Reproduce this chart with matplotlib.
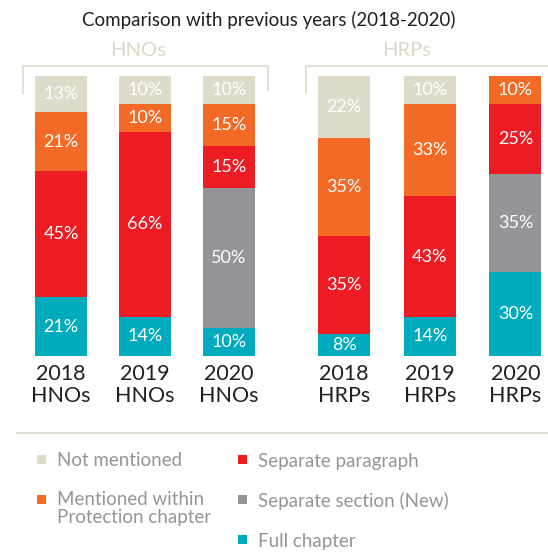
import matplotlib.pyplot as plt
from matplotlib.lines import Line2D
from matplotlib.patches import Rectangle

plt.rcParams['font.family'] = ['Lato', 'DejaVu Sans']

# categories (bottom to top stacking)
categories = ['2018\nHNOs', '2019\nHNOs', '2020\nHNOs', '2018\nHRPs', '2019\nHRPs', '2020\nHRPs']
full_chapter = [21, 14, 10, 8, 14, 30]
separate_section = [0, 0, 50, 0, 0, 35]
separate_paragraph = [45, 66, 15, 35, 43, 25]
mentioned_within = [21, 10, 15, 35, 33, 10]
not_mentioned = [13, 10, 10, 22, 10, 0]

series = [full_chapter, separate_section, separate_paragraph, mentioned_within, not_mentioned]
colors = ['#00abbd', '#939598', '#ed1c24', '#f26a25', '#dfdbcb']

legend_labels = ['Not mentioned', 'Mentioned within\nProtection chapter',
                 'Separate paragraph', 'Separate section (New)', 'Full chapter']
legend_colors = ['#dfdbcb', '#f26a25', '#ed1c24', '#939598', '#00abbd']

W, H = 548, 552
fig = plt.figure(figsize=(W / 100, H / 100), dpi=100)

ax = fig.add_axes([0, 1 - 356 / H, 1, 280 / H])
pos = [0, 1, 2, 3.37, 4.39, 5.41]
step = 84
ax.set_xlim(-61 / step, (W - 61) / step)
ax.set_ylim(0, 100)

bottom = [0] * len(pos)
for vals, col in zip(series, colors):
    ax.bar(pos, vals, bottom=bottom, width=52 / step, color=col, linewidth=0)
    for x, v, b in zip(pos, vals, bottom):
        if v > 0:
            ax.text(x, b + v / 2, '%d%%' % v, ha='center', va='center',
                    color='white', fontsize=13)
    bottom = [b + v for b, v in zip(bottom, vals)]

ax.set_xticks(pos)
ax.set_xticklabels(categories, fontsize=15.5, color='#231f20', linespacing=1.12)
ax.tick_params(axis='x', length=0, pad=6)
ax.set_yticks([])
for s in ax.spines.values():
    s.set_visible(False)
ax.patch.set_alpha(0)

line_col = '#e3dfd3'


def px(x, y):
    return x / W, 1 - y / H


# title and group headers
fig.text(*px(269, 20), 'Comparison with previous years (2018-2020)', ha='center',
         va='center', fontsize=13.5, color='#231f20')
fig.text(*px(138, 51), 'HNOs', ha='center', va='center', fontsize=14.5, color='#dcd8c8')
fig.text(*px(407, 51), 'HRPs', ha='center', va='center', fontsize=14.5, color='#dcd8c8')

# brackets
for xs, ys in [([23, 23, 268, 268], [93, 66, 66, 90]),
               ([306, 306, 548], [93, 66, 66]),
               ([17, 548], [433, 433])]:
    fx = [x / W for x in xs]
    fy = [1 - y / H for y in ys]
    fig.add_artist(Line2D(fx, fy, color=line_col, lw=1.5))

# legend
leg_pos = [(37, 461), (37, 501), (238, 461), (238, 501), (238, 541)]
for (lx, ly), lab, col in zip(leg_pos, legend_labels, legend_colors):
    fig.add_artist(Rectangle(px(lx, ly + 3), 9 / W, 9 / H, color=col, lw=0))
    if '\n' in lab:
        fig.text(*px(lx + 20, ly - 10), lab, ha='left', va='top',
                 fontsize=13.5, color='#939598', linespacing=1.05)
    else:
        fig.text(*px(lx + 20, ly), lab, ha='left', va='center',
                 fontsize=13.5, color='#939598')

fig.savefig('out.png', dpi=100)
